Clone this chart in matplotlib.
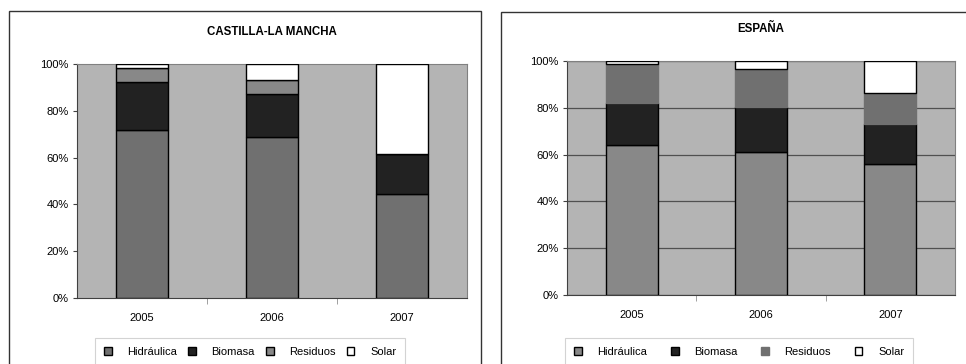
import matplotlib.pyplot as plt
import numpy as np
from matplotlib.patches import Rectangle
from matplotlib.ticker import PercentFormatter

years = ['2005', '2006', '2007']
series = ['Hidráulica', 'Biomasa', 'Residuos', 'Solar']

# shares in %
clm_hidraulica = [71.8, 68.6, 44.3]
clm_biomasa = [20.5, 18.7, 17.3]
clm_residuos = [6.1, 6.0, 0.0]
clm_solar = [1.6, 6.7, 38.4]

esp_hidraulica = [64.0, 61.2, 55.8]
esp_biomasa = [17.9, 19.1, 17.4]
esp_residuos = [16.7, 16.4, 13.1]
esp_solar = [1.4, 3.3, 13.7]

clm_colors = ['#707070', '#222222', '#888888', '#ffffff']
esp_colors = ['#888888', '#222222', '#707070', '#ffffff']

plt.rcParams['font.family'] = ['Liberation Sans', 'DejaVu Sans']

fig = plt.figure(figsize=(9.66, 3.64), dpi=100, facecolor='white')

# outer frames of the two charts
fig.patches.append(Rectangle((9 / 966, -0.05), 472 / 966, 1.05 - 11 / 364,
                             transform=fig.transFigure, fill=False,
                             edgecolor='#333333', lw=1.0))
fig.patches.append(Rectangle((501 / 966, -0.05), 470 / 966, 1.05 - 12 / 364,
                             transform=fig.transFigure, fill=False,
                             edgecolor='#333333', lw=1.0))


def draw(ax, title, data, colors, grid, seg_edges):
    x = np.arange(len(years))
    bottom = np.zeros(len(years))
    for name, vals, c, ec in zip(series, data, colors, seg_edges):
        vals = np.array(vals)
        ax.bar(x, vals, 0.4, bottom=bottom, color=c, edgecolor=ec,
               linewidth=1.0, label=name, zorder=3)
        bottom += vals
    ax.set_facecolor('#b4b4b4')
    ax.set_xlim(-0.5, 2.5)
    ax.set_ylim(0, 100)
    ax.set_yticks([0, 20, 40, 60, 80, 100])
    ax.yaxis.set_major_formatter(PercentFormatter(decimals=0))
    ax.set_xticks(x)
    ax.set_xticklabels(years)
    ax.set_xticks([0.5, 1.5], minor=True)
    ax.tick_params(axis='x', which='major', length=0, pad=11, labelsize=8)
    ax.tick_params(axis='x', which='minor', length=4, color='#909090',
                   direction='out')
    ax.tick_params(axis='y', length=3, pad=3, labelsize=8,
                   color='#404040')
    for s in ['top', 'right']:
        ax.spines[s].set_color('#808080')
    for s in ['left', 'bottom']:
        ax.spines[s].set_color('#404040')
    if grid:
        ax.grid(axis='y', color='#505050', lw=0.9, zorder=1)
    ax.set_title(title, fontsize=8.3, fontweight='bold', pad=21)


ax1 = fig.add_axes([77 / 966, 1 - 298 / 364, 390 / 966, 234 / 364])
draw(ax1, 'CASTILLA-LA MANCHA',
     [clm_hidraulica, clm_biomasa, clm_residuos, clm_solar],
     clm_colors, False, ['black'] * 4)

ax2 = fig.add_axes([567 / 966, 1 - 295 / 364, 388 / 966, 234 / 364])
draw(ax2, 'ESPAÑA',
     [esp_hidraulica, esp_biomasa, esp_residuos, esp_solar],
     esp_colors, True, ['black', 'black', '#707070', 'black'])

for ax, x0, w in [(ax1, 95, 310), (ax2, 565, 348)]:
    h, l = ax.get_legend_handles_labels()
    leg = fig.legend(h, l, loc='upper left', ncol=4,
                     bbox_to_anchor=(x0 / 966, 1 - 338 / 364, w / 966, 0),
                     mode='expand', frameon=True, fancybox=False,
                     fontsize=8, handlelength=0.7, handleheight=0.7,
                     handletextpad=1.4, columnspacing=1.0,
                     borderpad=0.8, borderaxespad=0, edgecolor='#c8c8c8')
    leg.get_frame().set_linewidth(0.8)

fig.savefig('out.png', dpi=100)
